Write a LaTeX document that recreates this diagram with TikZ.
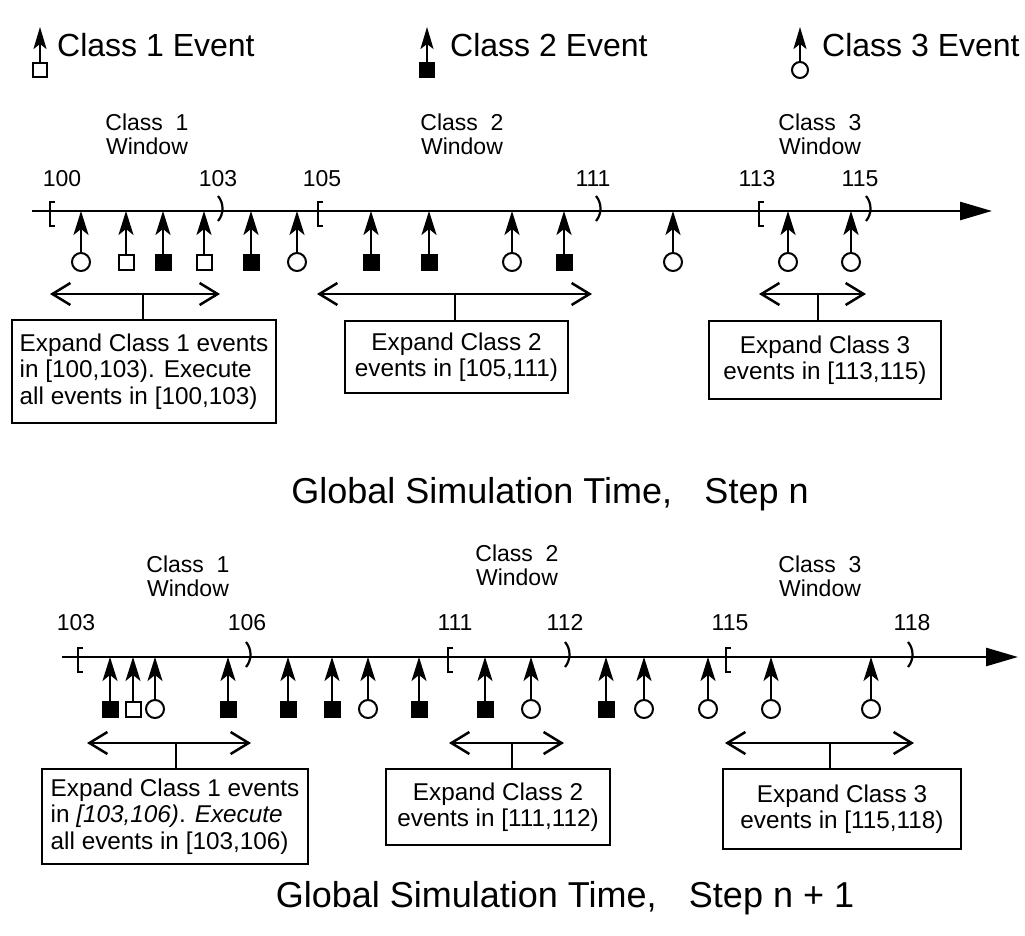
\documentclass[tikz,border=0pt]{standalone}
\usepackage{fontspec}
\setmainfont{Liberation Sans}
\usetikzlibrary{arrows.meta}
\newcommand\fLeg{\fontsize{32}{38}\selectfont}
\newcommand\fLab{\fontsize{23}{24}\selectfont}
\newcommand\fBox{\fontsize{24.3}{26.5}\selectfont}
\newcommand\fTtl{\fontsize{36}{42}\selectfont}
\begin{document}
\begin{tikzpicture}[x=1pt,y=-1pt,
  tl/.style={line width=2.6pt,-{Triangle[length=32pt,width=18pt]}},
  ev/.style={line width=2.2pt,-{Stealth[length=24pt,width=15pt,inset=6pt]}},
  evs/.style={line width=2pt,-{Stealth[length=22pt,width=13pt,inset=5pt]}},
  sc/.style={circle,draw,line width=2pt,minimum size=18pt,inner sep=0pt},
  so/.style={rectangle,draw,line width=2pt,minimum size=15pt,inner sep=0pt},
  sf/.style={rectangle,draw,fill,line width=1pt,minimum size=16pt,inner sep=0pt},
  span/.style={line width=2.5pt,{Straight Barb[length=18pt,width=22pt,line width=2.5pt]}-{Straight Barb[length=18pt,width=22pt,line width=2.5pt]}},
  stem/.style={line width=2pt},
  brk/.style={line width=2.2pt},
  box/.style={draw,line width=2pt,inner sep=0pt,anchor=north west,font=\fBox},
  lbl/.style={font=\fLab,align=center,inner sep=0pt,anchor=base},
  num/.style={font=\fLab,anchor=base,inner sep=0pt},
  leg/.style={font=\fLeg,anchor=base west,inner sep=0pt}]
\useasboundingbox (0,0) rectangle (1025,936);

% ---------- legend ----------
\node[so,minimum size=14pt] (lg1) at (40,70) {};
\coordinate (lt1) at (40,27);
\draw[evs] (lg1) -- (lt1);
\node[leg] (lx1) at (57,57) {Class 1 Event};
\node[sf,minimum size=15pt] (lg2) at (427,70) {};
\coordinate (lt2) at (427,27);
\draw[evs] (lg2) -- (lt2);
\node[leg] (lx2) at (450,57) {Class 2 Event};
\node[sc,minimum size=16pt] (lg3) at (800,70) {};
\coordinate (lt3) at (800,27);
\draw[evs] (lg3) -- (lt3);
\node[leg] (lx3) at (822,57) {Class 3 Event};

% ---------- step n ----------
\node[lbl] (wa1) at (147,155) {Class\ \ 1\\Window};
\node[lbl] (wa2) at (462,155) {Class\ \ 2\\Window};
\node[lbl] (wa3) at (820,155) {Class\ \ 3\\Window};
\foreach \x/\n in {62/100,218/103,322/105,593/111,757/113,860/115}
  \node[num] (na\n) at (\x,187) {\n};
\coordinate (La) at (32,211);
\coordinate (Lb) at (992,211);
\draw[tl] (La) -- (Lb);
\foreach \x in {50,318,759}
  \draw[brk] (\x+5,202) -- (\x,202) -- (\x,226) -- (\x+5,226);
\foreach \x in {220,598,868}
  \draw[brk] (\x-2,196) .. controls (\x+4,203) and (\x+4,214) .. (\x-2,221);
\foreach \x/\t [count=\i] in {81/sc,126/so,163/sf,204/so,251/sf,297/sc,371/sf,429/sf,512/sc,564/sf,673/sc,788/sc,851/sc}{
  \node[\t] (ea\i) at (\x,262) {};
  \coordinate (ta\i) at (\x,211);
  \draw[ev] (ea\i) -- (ta\i);
}
% spans and boxes
\coordinate (sa1l) at (50,294); \coordinate (sa1r) at (220,294); \coordinate (ma1) at (143,294);
\coordinate (sa2l) at (317,294); \coordinate (sa2r) at (592,294); \coordinate (ma2) at (455,294);
\coordinate (sa3l) at (759,294); \coordinate (sa3r) at (866,294); \coordinate (ma3) at (818,294);
\draw[span] (sa1l) -- (sa1r);
\draw[span] (sa2l) -- (sa2r);
\draw[span] (sa3l) -- (sa3r);
\node[box,minimum width=264pt,minimum height=103pt,align=left] (ba1) at (11,319)
  {Expand Class 1 events\\in [100,103). Execute\\all events in [100,103)};
\node[box,minimum width=223pt,minimum height=72pt,align=center] (ba2) at (344,320)
  {Expand Class 2\\events in [105,111)};
\node[box,minimum width=232pt,minimum height=78pt,align=center] (ba3) at (708,320)
  {Expand Class 3\\events in [113,115)};
\draw[stem] (ma1) -- (ma1 |- ba1.north);
\draw[stem] (ma2) -- (ma2 |- ba2.north);
\draw[stem] (ma3) -- (ma3 |- ba3.north);
\node[font=\fTtl,anchor=base,inner sep=0pt] (ta) at (550,503) {Global Simulation Time,\hspace{0.9em}Step n};

% ---------- step n+1 ----------
\node[lbl] (wb1) at (188,596) {Class\ \ 1\\Window};
\node[lbl] (wb2) at (517,585) {Class\ \ 2\\Window};
\node[lbl] (wb3) at (820,596) {Class\ \ 3\\Window};
\foreach \x/\n in {76/103,247/106,455/111,565/112,730/115,912/118}
  \node[num] (nb\n) at (\x,630) {\n};
\coordinate (Lc) at (62,657);
\coordinate (Ld) at (1018,657);
\draw[tl] (Lc) -- (Ld);
\foreach \x in {78,448,726}
  \draw[brk] (\x+5,648) -- (\x,648) -- (\x,672) -- (\x+5,672);
\foreach \x in {248,567,910}
  \draw[brk] (\x-2,642) .. controls (\x+4,649) and (\x+4,660) .. (\x-2,667);
\foreach \x/\t [count=\i] in {110/sf,133/so,155/sc,228/sf,288/sf,332/sf,368/sc,419/sf,485/sf,531/sc,606/sf,644/sc,708/sc,771/sc,871/sc}{
  \node[\t] (eb\i) at (\x,709) {};
  \coordinate (tb\i) at (\x,657);
  \draw[ev] (eb\i) -- (tb\i);
}
\coordinate (sb1l) at (87,743); \coordinate (sb1r) at (251,743); \coordinate (mb1) at (176,743);
\coordinate (sb2l) at (449,743); \coordinate (sb2r) at (564,743); \coordinate (mb2) at (512,743);
\coordinate (sb3l) at (725,743); \coordinate (sb3r) at (914,743); \coordinate (mb3) at (830,743);
\draw[span] (sb1l) -- (sb1r);
\draw[span] (sb2l) -- (sb2r);
\draw[span] (sb3l) -- (sb3r);
\node[box,minimum width=266pt,minimum height=95pt,align=left] (bb1) at (41,768)
  {Expand Class 1 events\\in \textit{[103,106)}. \textit{Execute}\\all events in [103,106)};
\node[box,minimum width=224pt,minimum height=76pt,align=center] (bb2) at (385,768)
  {Expand Class 2\\events in [111,112)};
\node[box,minimum width=238pt,minimum height=80pt,align=center] (bb3) at (722,768)
  {Expand Class 3\\events in [115,118)};
\draw[stem] (mb1) -- (mb1 |- bb1.north);
\draw[stem] (mb2) -- (mb2 |- bb2.north);
\draw[stem] (mb3) -- (mb3 |- bb3.north);
\node[font=\fTtl,anchor=base,inner sep=0pt] (tbt) at (565,907) {Global Simulation Time,\hspace{0.9em}Step n + 1};
\end{tikzpicture}
\end{document}
